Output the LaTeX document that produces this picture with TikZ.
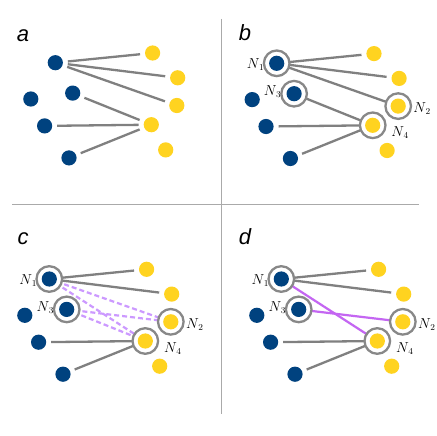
\documentclass[tikz,border=0pt]{standalone}
\usepackage{fontspec}
\newfontfamily\lblfont{Liberation Sans}
\usetikzlibrary{backgrounds}
\definecolor{dotblue}{HTML}{00427F}
\definecolor{dotyellow}{HTML}{FFD320}
\definecolor{edgegray}{HTML}{808080}
\definecolor{ringgray}{HTML}{888888}
\definecolor{divgray}{HTML}{AAAAAA}
\definecolor{purpledash}{HTML}{CC99FF}
\definecolor{purplesolid}{HTML}{C466F2}
\tikzset{
 bdot/.style={circle, fill=dotblue, inner sep=0pt, minimum size=15.2pt},
 ydot/.style={circle, fill=dotyellow, inner sep=0pt, minimum size=15.2pt},
 ring/.style={circle, draw=ringgray, line width=2.3pt, fill=white, inner sep=0pt, minimum size=25.6pt},
 gedge/.style={draw=edgegray, line width=2.3pt, shorten <=4.8pt, shorten >=4.8pt},
 dedge/.style={draw=purpledash, line width=2.2pt, dash pattern=on 5pt off 3pt},
 pedge/.style={draw=purplesolid, line width=2.2pt},
 nlabel/.style={anchor=base west, inner sep=0pt, font=\fontsize{13.5}{16}\selectfont},
 plabel/.style={anchor=base west, inner sep=0pt, font=\fontsize{22}{26}\selectfont\lblfont\itshape},
 divider/.style={draw=divgray, line width=1pt},
}
\newcommand{\placedots}[1]{%
 \node[bdot] (#1B1) at (0,0) {};
 \node[bdot] (#1B2) at (-24.5,36.3) {};
 \node[bdot] (#1B3) at (17.4,30.4) {};
 \node[bdot] (#1B4) at (-10.7,63.2) {};
 \node[bdot] (#1B5) at (13.7,95.2) {};
 \node[ydot] (#1Y1) at (97.3,-9.7) {};
 \node[ydot] (#1Y2) at (122.4,15.1) {};
 \node[ydot] (#1Y3) at (121.5,42.8) {};
 \node[ydot] (#1Y4) at (96,62) {};
 \node[ydot] (#1Y5) at (110.4,87.2) {};
}
\newcommand{\placerings}[1]{%
 \node[ring] (#1R1) at (0,0) {};
 \node[ring] (#1R3) at (17.4,30.4) {};
 \node[ring] (#1R2) at (121.5,42.8) {};
 \node[ring] (#1R4) at (96,62) {};
 \node[nlabel] (#1L1) at (-30,5) {$N_{\mkern2mu 1}$};
 \node[nlabel] (#1L3) at (-13,32.4) {$N_{\mkern2mu 3}$};
 \node[nlabel] (#1L2) at (136.5,49.5) {$N_{\mkern2mu 2}$};
 \node[nlabel] (#1L4) at (114.5,73) {$N_{\mkern2mu 4}$};
}
\begin{document}
\begin{tikzpicture}[x=1pt,y=-1pt]
\useasboundingbox (0,0) rectangle (436,436);
\begin{pgfonlayer}{background}
 \fill[white] (0,0) rectangle (436,436);
\end{pgfonlayer}
\draw[divider] (12,204) -- (419.3,204);
\draw[divider] (221.5,19) -- (221.5,414.3);
% panel letters
\node[plabel] (la) at (16.7,41.7) {a};
\node[plabel] (lb) at (238.7,40.7) {b};
\node[plabel] (lc) at (17.3,244) {c};
\node[plabel] (ld) at (238.7,244) {d};
% panel a
\begin{scope}[shift={(55.3,62.7)}]
 \placedots{a}
\end{scope}
\begin{pgfonlayer}{background}
 \path[gedge] (aB1) -- (aY1);
 \path[gedge] (aB1) -- (aY2);
 \path[gedge] (aB1) -- (aY3);
 \path[gedge] (aB3) -- (aY4);
 \path[gedge] (aB4) -- (aY4);
 \path[gedge] (aB5) -- (aY4);
\end{pgfonlayer}
% panel b
\begin{scope}[shift={(276.7,63.3)}]
 \placerings{b}
 \placedots{b}
\end{scope}
\begin{pgfonlayer}{background}
 \path[gedge] (bB1) -- (bY1);
 \path[gedge] (bB1) -- (bY2);
 \path[gedge] (bB1) -- (bY3);
 \path[gedge] (bB3) -- (bY4);
 \path[gedge] (bB4) -- (bY4);
 \path[gedge] (bB5) -- (bY4);
\end{pgfonlayer}
% panel c
\begin{scope}[shift={(49.3,279)}]
 \placerings{c}
 \placedots{c}
\end{scope}
\begin{pgfonlayer}{background}
 \path[gedge] (cB1) -- (cY1);
 \path[gedge] (cB1) -- (cY2);
 \path[gedge] (cB4) -- (cY4);
 \path[gedge] (cB5) -- (cY4);
 \path[dedge] (cB1) -- (cY3);
 \path[dedge] (cB1) -- (cY4);
 \path[dedge] (cB3) -- (cY3);
 \path[dedge] (cB3) -- (cY4);
\end{pgfonlayer}
% panel d
\begin{scope}[shift={(281.3,279)}]
 \placerings{d}
 \placedots{d}
\end{scope}
\begin{pgfonlayer}{background}
 \path[gedge] (dB1) -- (dY1);
 \path[gedge] (dB1) -- (dY2);
 \path[gedge] (dB4) -- (dY4);
 \path[gedge] (dB5) -- (dY4);
 \path[pedge] (dB1) -- (dY4);
 \path[pedge] (dB3) -- (dY3);
\end{pgfonlayer}
\end{tikzpicture}
\end{document}
